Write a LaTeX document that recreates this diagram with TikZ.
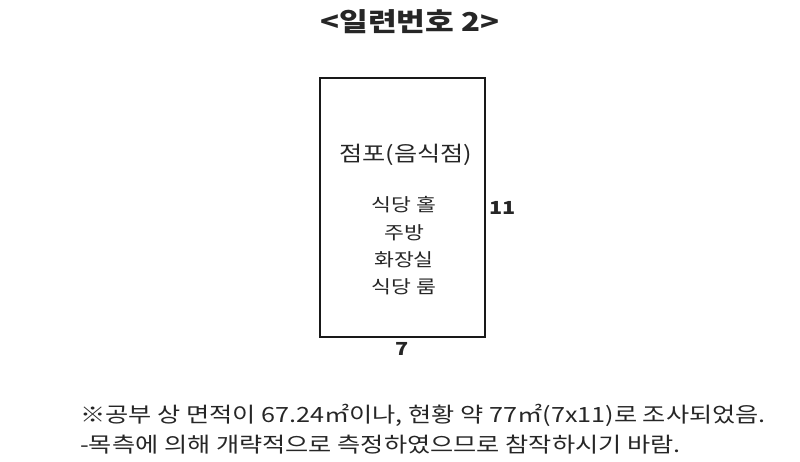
\documentclass[tikz,border=0pt]{standalone}
\usepackage{fontspec}
\setmainfont{Noto Sans CJK KR}[FakeStretch=1.2]
\usepackage{tikz}
\usetikzlibrary{positioning}
\tikzset{
    plan/.style={
      x=1pt, y=-1pt, %pixel grid, y down
      font=\fontsize{18}{22}\selectfont,
      text=black!85,
    },
    room/.style={
      draw=black!90,
      line width=1.6pt,
      minimum width=165pt,
      minimum height=259pt,
      inner sep=0pt,
    },
    dimlabel/.style={
      font=\fontsize{18}{20}\selectfont\bfseries,
      inner sep=1pt,
    },
    note/.style={
      anchor=west,
      font=\fontsize{21}{25}\selectfont,
      inner sep=0pt,
    }
  }

\begin{document}
\begin{tikzpicture}[plan]
    \useasboundingbox (0,0) rectangle (800,462);
    \node[font=\fontsize{26}{30}\selectfont\bfseries] (title) at (410,22) {<일련번호 2>};

    \node[room] (store) at (402.5,207.5) {};
    \node[font=\fontsize{21}{24}\selectfont] (use) at (406,155) {점포(음식점)};
    \node (hall) at (404,205) {식당 홀};
    \node[below=4pt of hall] (kitchen) {주방};
    \node[below=4pt of kitchen] (toilet) {화장실};
    \node[below=4pt of toilet] (room) {식당 룸};

    \node[dimlabel, right=2pt of store] (side) {11};
    \node[dimlabel, below=3pt of store] (base) {7};

    \node[note] (note1) at (80,415) {※공부 상 면적이 67.24㎡이나, 현황 약 77㎡(7x11)로 조사되었음.};
    \node[note] (note2) at (80,445) {-목측에 의해 개략적으로 측정하였으므로 참작하시기 바람.};
\end{tikzpicture}
\end{document}
